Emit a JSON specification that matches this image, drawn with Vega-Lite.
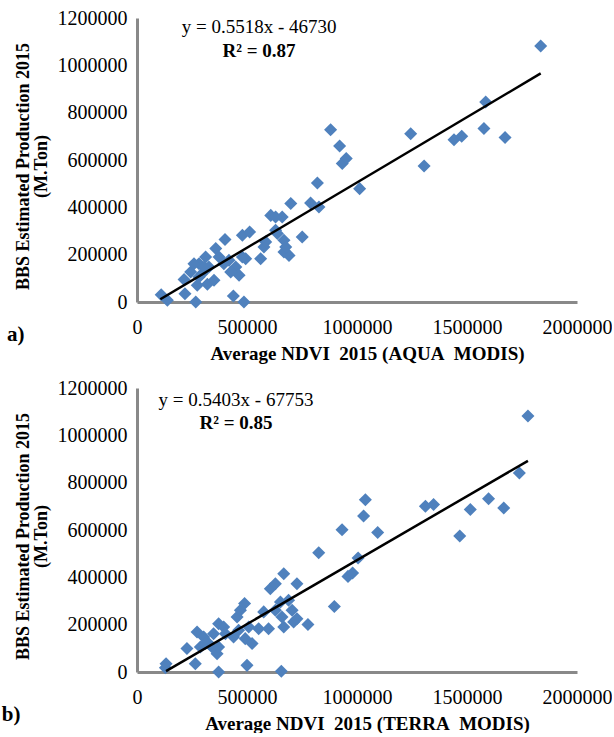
{
  "$schema": "https://vega.github.io/schema/vega-lite/v6.json",
  "padding": {"left": 1, "top": 8, "right": 0, "bottom": 0},
  "spacing": 15,
  "background": "white",
  "config": {
    "view": {"stroke": null},
    "font": "Liberation Serif",
    "axis": {
      "domainColor": "#898989",
      "domainWidth": 3,
      "ticks": false,
      "tickSize": 0,
      "grid": false,
      "labelFont": "Liberation Serif",
      "labelFontSize": 20,
      "labelColor": "#000000",
      "labelOverlap": false,
      "labelFlush": false,
      "titleFont": "Liberation Serif",
      "titleFontSize": 18,
      "titleFontWeight": "bold",
      "titleColor": "#000000",
      "format": "d"
    },
    "axisX": {"labelPadding": 15, "titlePadding": 7, "titleFontSize": 19, "titleX": 230},
    "axisY": {"labelPadding": 10, "titlePadding": 7, "titleLineHeight": 18, "titleY": 148}
  },
  "datasets": {
    "aqua": [
      {"x":110000,"y":31000},{"x":138000,"y":7000},{"x":218000,"y":35000},{"x":267000,"y":0},{"x":438000,"y":25000},{"x":486000,"y":0},
      {"x":214000,"y":95000},{"x":320000,"y":75000},{"x":274000,"y":71000},{"x":282000,"y":162000},{"x":312000,"y":190000},{"x":327000,"y":148000},
      {"x":297000,"y":120000},{"x":358000,"y":226000},{"x":400000,"y":264000},{"x":418000,"y":176000},{"x":449000,"y":148000},{"x":464000,"y":113000},
      {"x":479000,"y":282000},{"x":512000,"y":296000},{"x":494000,"y":183000},{"x":562000,"y":183000},{"x":577000,"y":232000},{"x":608000,"y":366000},
      {"x":660000,"y":359000},{"x":630000,"y":303000},{"x":668000,"y":261000},{"x":668000,"y":211000},{"x":691000,"y":197000},{"x":699000,"y":416000},
      {"x":751000,"y":275000},{"x":789000,"y":418000},{"x":827000,"y":401000},{"x":820000,"y":503000},{"x":880000,"y":728000},{"x":921000,"y":659000},
      {"x":933000,"y":585000},{"x":951000,"y":606000},{"x":1012000,"y":479000},{"x":1244000,"y":711000},{"x":1305000,"y":575000},{"x":1441000,"y":686000},
      {"x":1476000,"y":700000},{"x":1577000,"y":733000},{"x":1585000,"y":845000},{"x":1673000,"y":695000},{"x":1835000,"y":1082000},
      {"x":244000,"y":127000},{"x":259000,"y":162000},{"x":305000,"y":148000},{"x":373000,"y":190000},{"x":395000,"y":162000},{"x":426000,"y":127000},
      {"x":479000,"y":190000},{"x":585000,"y":254000},{"x":630000,"y":359000},{"x":676000,"y":232000},{"x":350000,"y":92000},{"x":282000,"y":106000},
      {"x":638000,"y":289000}
    ],
    "terra": [
      {"x":132000,"y":35000},{"x":129000,"y":18000},{"x":227000,"y":99000},{"x":265000,"y":35000},{"x":371000,"y":0},{"x":500000,"y":28000},
      {"x":656000,"y":3000},{"x":273000,"y":169000},{"x":303000,"y":148000},{"x":288000,"y":106000},{"x":326000,"y":120000},{"x":364000,"y":77000},
      {"x":371000,"y":106000},{"x":371000,"y":204000},{"x":394000,"y":190000},{"x":402000,"y":162000},{"x":439000,"y":148000},{"x":455000,"y":232000},
      {"x":470000,"y":261000},{"x":489000,"y":289000},{"x":492000,"y":141000},{"x":523000,"y":120000},{"x":508000,"y":190000},{"x":553000,"y":183000},
      {"x":576000,"y":254000},{"x":598000,"y":183000},{"x":606000,"y":352000},{"x":629000,"y":373000},{"x":652000,"y":296000},{"x":667000,"y":415000},
      {"x":659000,"y":232000},{"x":667000,"y":190000},{"x":689000,"y":303000},{"x":705000,"y":261000},{"x":712000,"y":211000},{"x":727000,"y":373000},
      {"x":727000,"y":225000},{"x":777000,"y":201000},{"x":826000,"y":504000},{"x":897000,"y":277000},{"x":932000,"y":601000},{"x":959000,"y":404000},
      {"x":980000,"y":418000},{"x":1005000,"y":482000},{"x":1030000,"y":659000},{"x":1038000,"y":728000},{"x":1094000,"y":589000},{"x":1311000,"y":700000},
      {"x":1348000,"y":708000},{"x":1467000,"y":575000},{"x":1515000,"y":687000},{"x":1598000,"y":732000},{"x":1667000,"y":693000},{"x":1738000,"y":841000},
      {"x":1777000,"y":1082000},{"x":348000,"y":162000},{"x":311000,"y":120000},{"x":462000,"y":176000},{"x":629000,"y":261000},{"x":341000,"y":106000}
    ],
    "trendA": [{"x":106000,"y":11760},{"x":1835000,"y":965823}],
    "trendB": [{"x":132000,"y":3567},{"x":1777000,"y":892360}],
    "eqA": [{"x":555000,"y":1161000,"label":"y = 0.5518x - 46730"}],
    "r2A": [{"x":555000,"y":1059000,"label":"R² = 0.87"}],
    "tagA": [{"x":-591000,"y":-141000,"label":"a)"}],
    "eqB": [{"x":450000,"y":1148000,"label":"y = 0.5403x - 67753"}],
    "r2B": [{"x":450000,"y":1052000,"label":"R² = 0.85"}],
    "tagB": [{"x":-615000,"y":-183000,"label":"b)"}]
  },
  "vconcat": [
    {
      "width": 440,
      "height": 284,
      "layer": [
        {
          "data": {"name": "aqua"},
          "mark": {"type": "point", "shape": "diamond", "filled": true, "size": 170, "color": "#4F81BD", "opacity": 1},
          "encoding": {
            "x": {"field": "x", "type": "quantitative", "scale": {"domain": [0, 2000000], "nice": false}, "axis": {"title": "Average NDVI\u00a0 2015 (AQUA\u00a0 MODIS)", "values": [0, 500000, 1000000, 1500000, 2000000]}},
            "y": {"field": "y", "type": "quantitative", "scale": {"domain": [0, 1200000], "nice": false}, "axis": {"title": ["BBS Estimated Production 2015", "(M.Ton)"], "values": [0, 200000, 400000, 600000, 800000, 1000000, 1200000]}}
          }
        },
        {
          "data": {"name": "trendA"},
          "mark": {"type": "line", "color": "#000000", "strokeWidth": 2.5},
          "encoding": {
            "x": {"field": "x", "type": "quantitative", "scale": {"domain": [0, 2000000], "nice": false}},
            "y": {"field": "y", "type": "quantitative", "scale": {"domain": [0, 1200000], "nice": false}}
          }
        },
        {
          "data": {"name": "eqA"},
          "mark": {"type": "text", "fontSize": 19, "font": "Liberation Serif", "color": "#000000", "baseline": "middle", "align": "center"},
          "encoding": {
            "x": {"field": "x", "type": "quantitative", "scale": {"domain": [0, 2000000], "nice": false}},
            "y": {"field": "y", "type": "quantitative", "scale": {"domain": [0, 1200000], "nice": false}},
            "text": {"field": "label"}
          }
        },
        {
          "data": {"name": "r2A"},
          "mark": {"type": "text", "fontSize": 19, "fontWeight": "bold", "font": "Liberation Serif", "color": "#000000", "baseline": "middle", "align": "center"},
          "encoding": {
            "x": {"field": "x", "type": "quantitative", "scale": {"domain": [0, 2000000], "nice": false}},
            "y": {"field": "y", "type": "quantitative", "scale": {"domain": [0, 1200000], "nice": false}},
            "text": {"field": "label"}
          }
        },
        {
          "data": {"name": "tagA"},
          "mark": {"type": "text", "fontSize": 21, "fontWeight": "bold", "font": "Liberation Serif", "color": "#000000", "baseline": "middle", "align": "left"},
          "encoding": {
            "x": {"field": "x", "type": "quantitative", "scale": {"domain": [0, 2000000], "nice": false}},
            "y": {"field": "y", "type": "quantitative", "scale": {"domain": [0, 1200000], "nice": false}},
            "text": {"field": "label"}
          }
        }
      ]
    },
    {
      "width": 440,
      "height": 284,
      "layer": [
        {
          "data": {"name": "terra"},
          "mark": {"type": "point", "shape": "diamond", "filled": true, "size": 170, "color": "#4F81BD", "opacity": 1},
          "encoding": {
            "x": {"field": "x", "type": "quantitative", "scale": {"domain": [0, 2000000], "nice": false}, "axis": {"title": "Average NDVI\u00a0 2015 (TERRA\u00a0 MODIS)", "values": [0, 500000, 1000000, 1500000, 2000000]}},
            "y": {"field": "y", "type": "quantitative", "scale": {"domain": [0, 1200000], "nice": false}, "axis": {"title": ["BBS Estimated Production 2015", "(M.Ton)"], "values": [0, 200000, 400000, 600000, 800000, 1000000, 1200000]}}
          }
        },
        {
          "data": {"name": "trendB"},
          "mark": {"type": "line", "color": "#000000", "strokeWidth": 2.5},
          "encoding": {
            "x": {"field": "x", "type": "quantitative", "scale": {"domain": [0, 2000000], "nice": false}},
            "y": {"field": "y", "type": "quantitative", "scale": {"domain": [0, 1200000], "nice": false}}
          }
        },
        {
          "data": {"name": "eqB"},
          "mark": {"type": "text", "fontSize": 19, "font": "Liberation Serif", "color": "#000000", "baseline": "middle", "align": "center"},
          "encoding": {
            "x": {"field": "x", "type": "quantitative", "scale": {"domain": [0, 2000000], "nice": false}},
            "y": {"field": "y", "type": "quantitative", "scale": {"domain": [0, 1200000], "nice": false}},
            "text": {"field": "label"}
          }
        },
        {
          "data": {"name": "r2B"},
          "mark": {"type": "text", "fontSize": 19, "fontWeight": "bold", "font": "Liberation Serif", "color": "#000000", "baseline": "middle", "align": "center"},
          "encoding": {
            "x": {"field": "x", "type": "quantitative", "scale": {"domain": [0, 2000000], "nice": false}},
            "y": {"field": "y", "type": "quantitative", "scale": {"domain": [0, 1200000], "nice": false}},
            "text": {"field": "label"}
          }
        },
        {
          "data": {"name": "tagB"},
          "mark": {"type": "text", "fontSize": 21, "fontWeight": "bold", "font": "Liberation Serif", "color": "#000000", "baseline": "middle", "align": "left"},
          "encoding": {
            "x": {"field": "x", "type": "quantitative", "scale": {"domain": [0, 2000000], "nice": false}},
            "y": {"field": "y", "type": "quantitative", "scale": {"domain": [0, 1200000], "nice": false}},
            "text": {"field": "label"}
          }
        }
      ]
    }
  ]
}
